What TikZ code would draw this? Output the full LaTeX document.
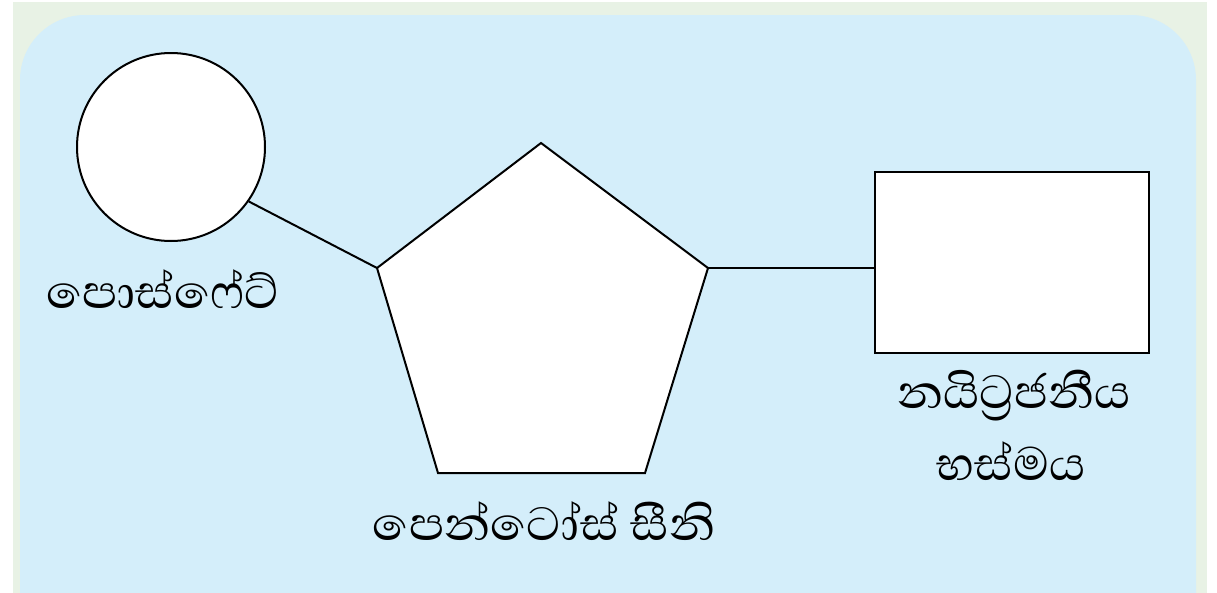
\documentclass[tikz,border=0pt]{standalone}
\usepackage{fontspec}
\newfontfamily\sinhala[Script=Sinhala]{Abhaya Libre}
\definecolor{panelblue}{HTML}{D4EEFA}
\definecolor{framegreen}{HTML}{E8F2E5}
\begin{document}
\begin{tikzpicture}[x=1pt,y=-1pt,
  shapeline/.style={draw=black,line width=2pt,fill=white},
  link/.style={draw=black,line width=2pt},
  lbl/.style={font=\sinhala\fontsize{60}{66}\selectfont,anchor=base,inner sep=0pt}]
\useasboundingbox (0,0) rectangle (1217,592);
\fill[white] (-5,-5) rectangle (1222,600);
\fill[framegreen] (13,2) rectangle (1207,600);
\fill[panelblue,rounded corners=65pt] (20,15) rectangle (1196,700);
% phosphate
\node[shapeline,circle,minimum size=188pt,inner sep=0pt] (phos) at (171,147) {};
% pentose
\coordinate (pt) at (541,143);
\coordinate (pl) at (377,268);
\coordinate (pr) at (708,268);
\coordinate (pbl) at (438,473);
\coordinate (pbr) at (645,473);
\path[shapeline,line join=miter] (pt) -- (pr) -- (pbr) -- (pbl) -- (pl) -- cycle;
% base
\node[shapeline,rectangle,minimum width=274pt,minimum height=181pt,inner sep=0pt] (base) at (1012,262.5) {};
% connectors
\draw[link] (phos.-35) -- (pl);
\draw[link] (pr) -- (pr -| base.west);
% labels
\node[lbl] (lphos) at (163,308) {පොස්ෆේට්};
\node[lbl] (lpent) at (544,540) {පෙන්ටෝස් සීනි};
\node[lbl] (lbase1) at (1014,408) {නයිට්‍රජනීය};
\node[lbl] (lbase2) at (1011,480) {භස්මය};
\end{tikzpicture}
\end{document}
